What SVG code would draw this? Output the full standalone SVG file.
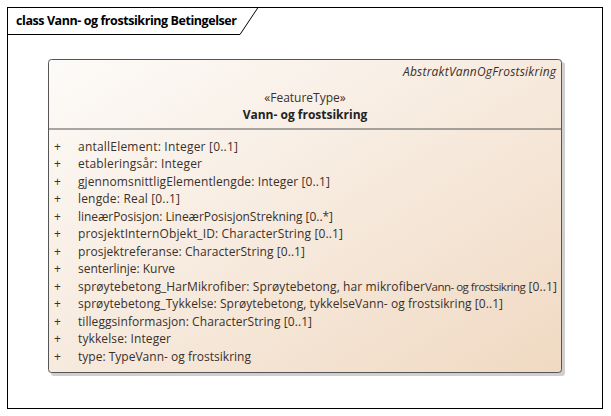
<svg xmlns="http://www.w3.org/2000/svg" width="611" height="416" viewBox="0 0 611 416">
<defs>
<linearGradient id="g" x1="0" y1="0" x2="1" y2="1">
<stop offset="0" stop-color="#fdfbf9"/>
<stop offset="1" stop-color="#f0d9c2"/>
</linearGradient>
<style>
text{font-family:"Open Sans","Noto Sans","Liberation Sans",sans-serif;fill:#3a302a;font-size:12px}
.t{font-weight:bold;fill:#000;font-size:12.5px}
.p{text-anchor:middle}
.b{font-weight:bold;fill:#222}
.i{font-style:italic;text-anchor:end}
.s{font-size:11.5px;letter-spacing:-0.6px}
</style>
</defs>
<rect x="0" y="0" width="611" height="416" fill="#fff"/>
<g id="frame">
<rect x="7.5" y="7.5" width="595" height="401" fill="none" stroke="#000"/>
<path d="M7.5,34.5 H240 L258,7.5" fill="none" stroke="#000"/>
<text class="t" x="16" y="25" textLength="221" lengthAdjust="spacing">class Vann- og frostsikring Betingelser</text>
</g>
<g id="connectors"/>
<g id="VannOgFrostsikring">
<rect x="51" y="62" width="514" height="314" rx="3" fill="#cfcfcf"/>
<rect x="48.5" y="59.5" width="513" height="313" rx="3" fill="url(#g)" stroke="#555"/>
<line x1="48.5" y1="129" x2="561.5" y2="129" stroke="#555"/>
<text class="i" x="556" y="76" textLength="153" lengthAdjust="spacing">AbstraktVannOgFrostsikring</text>
<text class="p" x="305" y="102">«FeatureType»</text>
<text class="p b" x="305" y="119">Vann- og frostsikring</text>
<g class="attrs">
<text x="54" y="150.5">+</text><text x="78" y="150.5" textLength="160" lengthAdjust="spacing">antallElement: Integer [0..1]</text>
<text x="54" y="168">+</text><text x="78" y="168" textLength="124" lengthAdjust="spacing">etableringsår: Integer</text>
<text x="54" y="185.5">+</text><text x="78" y="185.5" textLength="252" lengthAdjust="spacing">gjennomsnittligElementlengde: Integer [0..1]</text>
<text x="54" y="203">+</text><text x="78" y="203" textLength="102" lengthAdjust="spacing">lengde: Real [0..1]</text>
<text x="54" y="220.5">+</text><text x="78" y="220.5" textLength="255" lengthAdjust="spacing">lineærPosisjon: LineærPosisjonStrekning [0..*]</text>
<text x="54" y="238">+</text><text x="78" y="238" textLength="265" lengthAdjust="spacing">prosjektInternObjekt_ID: CharacterString [0..1]</text>
<text x="54" y="255.5">+</text><text x="78" y="255.5" textLength="227" lengthAdjust="spacing">prosjektreferanse: CharacterString [0..1]</text>
<text x="54" y="273">+</text><text x="78" y="273" textLength="97" lengthAdjust="spacing">senterlinje: Kurve</text>
<text x="54" y="290.5">+</text><text x="78" y="290.5" textLength="479" lengthAdjust="spacing">sprøytebetong_HarMikrofiber: Sprøytebetong, har mikrofiber<tspan class="s">Vann- og frostsikring</tspan> [0..1]</text>
<text x="54" y="308">+</text><text x="78" y="308" textLength="425" lengthAdjust="spacing">sprøytebetong_Tykkelse: Sprøytebetong, tykkelseVann- og frostsikring [0..1]</text>
<text x="54" y="325.5">+</text><text x="78" y="325.5" textLength="234" lengthAdjust="spacing">tilleggsinformasjon: CharacterString [0..1]</text>
<text x="54" y="343">+</text><text x="78" y="343" textLength="93" lengthAdjust="spacing">tykkelse: Integer</text>
<text x="54" y="360.5">+</text><text x="78" y="360.5" textLength="173" lengthAdjust="spacing">type: TypeVann- og frostsikring</text>
</g>
</g>
</svg>
